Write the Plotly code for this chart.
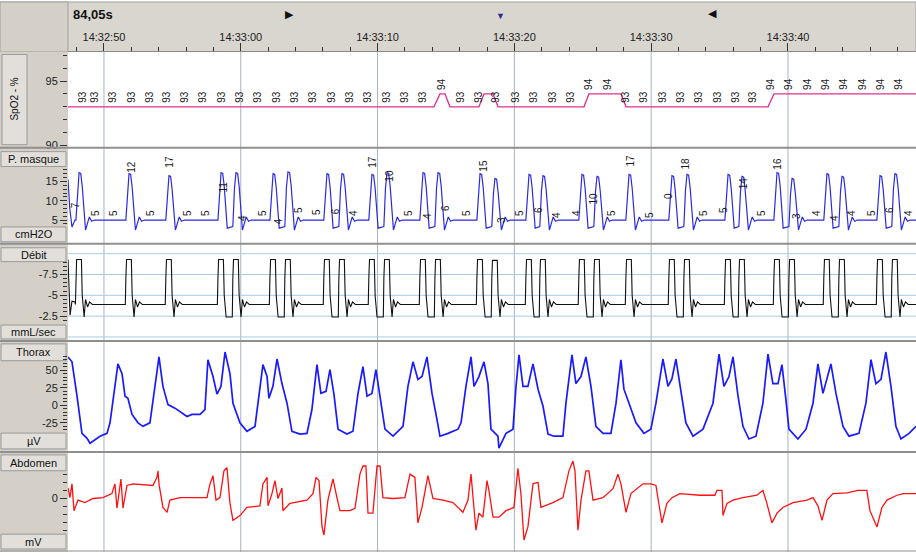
import plotly.graph_objects as go
import pandas as pd

# ---------------- DATA (seconds after 14:32:50) ----------------
t_start, t_end = -2.63, 59.36
grid_secs = [0, 10, 20, 30, 40, 50]

# SpO2 (%)
spo2_t = [-2.63, 24.12, 24.56, 24.93, 25.29, 27.41, 27.78, 28.44, 28.80, 35.09, 35.45, 37.79, 38.16, 48.54, 48.98, 59.36]
spo2_v = [93, 93, 94, 94, 93, 93, 94, 94, 93, 93, 94, 94, 93, 93, 94, 94]
spo2_lab_t = [-1.54, -0.66, 0.66, 2.05, 3.36, 4.61, 5.92, 7.24, 8.63, 9.94,
              11.26, 12.65, 13.96, 15.28, 16.67, 17.98, 19.30, 20.69, 22.00, 23.32,
              24.71, 26.10, 27.41, 28.65, 30.12, 31.43, 32.82, 34.14, 35.45, 36.84,
              38.16, 39.47, 40.86, 42.18, 43.49, 44.88, 46.20, 47.44, 48.76, 50.07,
              51.46, 52.78, 54.09, 55.48, 56.80, 58.11]
spo2_lab_v = [93, 93, 93, 93, 93, 93, 93, 93, 93, 93,
              93, 93, 93, 93, 93, 93, 93, 93, 93, 93,
              94, 93, 93, 93, 93, 93, 93, 93, 94, 94,
              93, 93, 93, 93, 93, 93, 93, 93, 94, 94,
              94, 94, 94, 94, 94, 94]

# P. masque (cmH2O)
pm_lead_t = [-2.63, -2.50, -2.34, -2.12]
pm_lead_v = [15.5, 8.0, 3.2, 5.0]
pm_peak_t = [-1.75, 1.90, 4.82, 8.63, 9.72, 12.43, 13.52, 16.37, 17.47, 19.66,
             20.76, 23.39, 24.49, 27.56, 28.65, 31.14, 32.16, 35.01, 36.11, 38.45,
             41.59, 42.69, 45.69, 46.71, 49.27, 50.37, 52.92, 54.02, 56.80, 57.89]
pm_peak_v = [17.3, 17.0, 16.5, 17.3, 17.3, 17.0, 17.5, 17.0, 17.0, 16.8,
             17.3, 17.3, 17.3, 17.0, 15.8, 16.8, 16.5, 16.8, 16.3, 16.8,
             16.5, 16.8, 16.8, 16.3, 17.3, 15.8, 17.0, 16.3, 16.5, 17.0]
pm_base, pm_trough, pm_trough_mid = 5.0, 2.4, 2.9
pm_lab_t = [-2.12, -0.66, 0.66, 2.05, 3.36, 4.82, 6.07, 7.38, 8.70, 10.09,
            11.55, 12.72, 14.18, 15.57, 16.89, 18.20, 19.66, 20.91, 22.22, 23.61,
            24.93, 26.46, 27.78, 29.02, 30.34, 31.73, 33.04, 34.50, 35.75, 37.06,
            38.52, 39.84, 41.23, 42.54, 43.79, 45.25, 46.71, 48.03, 49.27, 50.58,
            52.05, 53.36, 54.61, 56.07, 57.38, 58.77]
pm_lab_txt = ["7", "5", "5", "12", "5", "17", "5", "5", "11", "4",
              "5", "4", "5", "5", "6", "4", "17", "10", "5", "4",
              "6", "5", "15", "3", "5", "6", "4", "4", "10", "5",
              "17", "5", "0", "18", "5", "5", "14", "5", "16", "3",
              "4", "4", "4", "5", "6", "4"]
pm_lab_y = [8.8, 6.8, 6.8, 18.8, 6.8, 20.1, 6.8, 6.8, 13.7, 5.5,
            6.8, 4.7, 7.6, 7.1, 7.3, 6.8, 20.1, 16.5, 6.8, 6.0,
            8.1, 6.8, 19.1, 5.0, 6.8, 7.6, 6.3, 6.8, 10.6, 6.8,
            20.4, 6.3, 11.2, 19.6, 6.8, 7.6, 14.5, 6.8, 19.6, 6.0,
            6.8, 5.5, 6.8, 6.8, 7.6, 6.8]

# Débit (mmL/sec)
deb_lead_t = [-2.63, -2.56, -2.48, -2.34, -2.12]
deb_lead_v = [-9.3, -4.6, -2.6, -4.3, -4.2]
deb_peak_v = [-9.3, -9.3, -9.3, -9.3, -9.3, -9.3, -9.3, -9.3, -9.3, -9.3,
              -9.3, -9.3, -9.3, -9.3, -9.2, -9.3, -9.3, -9.3, -9.3, -9.3,
              -9.3, -9.3, -9.3, -9.3, -9.3, -9.3, -9.3, -9.3, -9.3, -9.3]
deb_base, deb_trough = -3.9, -2.4

# Thorax (µV)
thx_t = [-2.63, -2.34, -1.97, -1.61, -1.24, -1.02, -0.29, 0.22, 0.44, 0.80,
         1.02, 1.32, 1.54, 1.75, 2.05, 2.49, 2.85, 3.36, 3.73, 4.02,
         4.31, 4.68, 5.19, 5.70, 6.07, 6.43, 7.02, 7.38, 7.60, 7.97,
         8.26, 8.55, 8.85, 9.21, 9.43, 9.94, 10.45, 11.04, 11.40, 11.62,
         11.92, 12.06, 12.35, 12.65, 13.01, 13.38, 13.74, 14.33, 14.84, 15.20,
         15.57, 15.86, 16.23, 16.52, 16.81, 17.11, 17.76, 18.20, 18.57, 18.93,
         19.23, 19.59, 19.88, 20.18, 20.54, 21.13, 21.86, 22.22, 22.59, 22.95,
         23.25, 23.61, 23.98, 24.34, 24.56, 25.15, 25.88, 26.10, 26.46, 26.83,
         27.05, 27.41, 27.78, 28.07, 28.29, 28.80, 28.87, 29.39, 29.90, 30.12,
         30.34, 30.63, 30.99, 31.36, 31.73, 32.09, 32.46, 32.89, 33.55, 33.77,
         34.21, 34.50, 34.87, 35.23, 35.60, 35.96, 36.48, 37.06, 37.43, 37.79,
         38.01, 38.38, 38.89, 39.47, 39.98, 40.35, 40.86, 41.23, 41.52, 41.81,
         42.18, 42.54, 43.06, 43.79, 44.52, 44.96, 45.32, 45.69, 45.98, 46.35,
         46.71, 47.15, 47.66, 48.17, 48.54, 48.90, 49.27, 49.56, 49.85, 50.07,
         50.73, 51.32, 51.83, 52.19, 52.56, 53.14, 53.51, 54.02, 54.46, 55.19,
         55.70, 56.07, 56.43, 56.80, 57.16, 57.53, 57.89, 58.26, 58.85, 59.36]
thx_v = [69, 62, 13, -40, -47, -54, -44, -40, -25, 31,
         59, 45, 13, 10, -13, -25, -30, -25, 27, 69,
         27, 1, -4, -11, -16, -13, -13, -6, 65, 41,
         16, 27, 76, 45, 3, -25, -37, -30, 27, 58,
         41, 10, 27, 66, 31, 3, -37, -41, -40, -6,
         58, 17, 20, 51, 16, -34, -41, -37, 17, 55,
         13, 17, 51, 13, -34, -44, -30, 27, 62, 37,
         41, 69, 17, -20, -44, -40, -34, -25, 27, 69,
         27, 41, 62, 31, -34, -44, -61, -40, -34, 27,
         72, 27, 27, 59, 23, -1, -41, -44, -44, 3,
         72, 31, 41, 69, 27, -30, -40, -40, 3, 65,
         23, 3, -25, -40, -34, 3, 66, 27, 38, 66,
         17, -25, -44, -34, 3, 73, 27, 41, 69, 13,
         -30, -48, -44, 3, 73, 31, 31, 58, 8, -34,
         -48, -34, 3, 59, 17, 59, 17, -30, -44, -40,
         3, 65, 31, 37, 76, 27, -30, -48, -40, -30]

# Abdomen (mV)
abd_t = [-2.63, -2.49, -2.34, -2.19, -1.90, -1.39, -0.80, -0.07, 0.58, 0.80,
         0.95, 1.24, 1.39, 1.68, 2.12, 3.58, 3.87, 3.95, 4.02, 4.31,
         4.61, 4.82, 5.56, 7.53, 7.75, 7.97, 8.19, 8.48, 8.77, 8.99,
         9.21, 9.43, 9.94, 10.45, 11.40, 11.62, 11.92, 11.99, 12.28, 12.50,
         12.72, 13.01, 13.08, 13.60, 14.84, 15.28, 15.50, 15.72, 15.94, 16.08,
         16.37, 16.74, 17.03, 17.25, 17.98, 18.35, 18.71, 18.93, 19.15, 19.30,
         19.66, 19.96, 20.18, 20.39, 21.13, 22.00, 22.37, 22.73, 22.95, 23.25,
         23.68, 24.05, 24.78, 25.51, 26.24, 26.61, 26.83, 27.05, 27.19, 27.41,
         27.70, 28.00, 28.14, 28.44, 28.87, 29.39, 29.97, 30.26, 30.48, 30.70,
         30.99, 31.36, 31.73, 31.94, 32.82, 33.55, 33.99, 34.28, 34.43, 34.65,
         34.87, 35.23, 35.45, 35.75, 36.48, 37.21, 37.57, 37.79, 38.16, 38.52,
         39.40, 39.98, 40.35, 40.79, 41.15, 41.52, 42.11, 43.57, 44.66, 44.81,
         45.18, 45.25, 45.54, 45.98, 46.71, 47.73, 48.17, 48.46, 48.83, 49.20,
         49.63, 50.37, 51.39, 51.83, 52.19, 52.49, 52.85, 53.29, 54.31, 55.12,
         55.77, 55.99, 56.51, 56.87, 57.24, 57.97, 58.41, 59.36]
abd_v = [1.3, 0.1, 1.8, -1.5, -0.2, -0.5, 0.0, 0.1, 0.6, 1.8,
         -1.2, 2.4, -1.2, 1.6, 1.8, 1.6, 2.6, 3.4, 1.8, -1.1,
         -1.7, -0.2, 0.1, 0.1, 1.8, 2.8, -0.2, 0.1, 3.4, 3.8,
         -0.6, -2.7, -2.1, -1.1, -0.9, 1.8, 2.6, -0.9, 0.6, 2.2,
         0.0, 1.3, -1.5, -0.6, -0.2, 0.6, 2.6, 2.2, -3.5, -4.5,
         -0.2, 2.4, 0.1, -1.5, -1.5, -1.2, 3.0, 4.0, 4.0, -1.8,
         -1.8, 4.0, 4.0, 0.1, 0.0, 0.1, 3.0, 2.6, -3.0, -1.1,
         2.8, 0.0, -0.2, -0.5, -1.7, -0.2, 3.0, -1.5, -3.9, -1.8,
         -2.3, 2.2, 1.0, -2.3, -2.3, -1.5, -1.1, 3.7, 0.6, -5.1,
         -3.5, 1.8, 2.0, -1.1, -0.5, 0.1, 3.4, 4.6, 3.4, -3.9,
         -0.2, 3.4, 3.4, -0.2, 0.1, 1.2, 3.0, 1.8, -1.7, 0.6,
         1.8, 1.8, 1.6, -3.0, -0.6, 0.1, 0.6, 0.4, 0.4, 1.0,
         1.0, -2.1, -0.6, -0.2, 0.1, 0.4, 1.0, -0.6, -3.0, -1.8,
         -1.1, -0.5, -0.2, 0.1, -0.9, -2.7, -0.2, 0.6, 0.7, 1.0,
         1.0, -1.5, -3.5, -1.1, -0.2, 0.4, 0.6, 0.6]

# ---------------- helpers ----------------
BASE = pd.Timestamp("2000-01-01 14:32:50")


def T(secs):
    return [BASE + pd.Timedelta(seconds=float(s)) for s in secs]


W, H, L = 916, 557, 68


def px(x):
    return (x - L) / (W - L)


def py(y):
    return 1 - y / H


def build_pm(peak_t, peak_v):
    xs, ys = list(pm_lead_t), list(pm_lead_v)
    n = len(peak_t)
    for i, (t, v) in enumerate(zip(peak_t, peak_v)):
        prev_pair = i > 0 and t - peak_t[i - 1] < 1.6
        next_pair = i < n - 1 and peak_t[i + 1] - t < 1.6
        if prev_pair:
            xs += [t - 0.30]; ys += [pm_trough_mid + 0.4]
        else:
            xs += [t - 0.30]; ys += [pm_base]
        xs += [t - 0.18, t - 0.07, t + 0.05, t + 0.16]
        ys += [v - 4.0, v, v - 0.2, v - 3.5]
        if next_pair:
            xs += [t + 0.38]; ys += [pm_trough_mid]
        else:
            xs += [t + 0.40, t + 0.55, t + 0.68, t + 0.85, t + 1.05]
            ys += [pm_trough, pm_base - 0.5, pm_base + 0.8, pm_base - 0.3, pm_base]
    xs.append(t_end); ys.append(pm_base)
    return xs, ys


def build_deb(peak_t, peak_v):
    xs, ys = list(deb_lead_t), list(deb_lead_v)
    n = len(peak_t)
    for i, (t, v) in enumerate(zip(peak_t, peak_v)):
        prev_pair = i > 0 and t - peak_t[i - 1] < 1.6
        next_pair = i < n - 1 and peak_t[i + 1] - t < 1.6
        xs += [t - 0.34]; ys += [deb_trough if prev_pair else deb_base]
        xs += [t - 0.30, t - 0.25, t + 0.10, t + 0.16, t + 0.30]
        ys += [-7.0, v, v, -5.0, deb_trough]
        if not next_pair:
            xs += [t + 0.40, t + 0.55, t + 0.70, t + 0.90]
            ys += [-4.5, -3.6, -4.2, deb_base]
    xs.append(t_end); ys.append(deb_base)
    return xs, ys


pm_x, pm_y = build_pm(pm_peak_t, pm_peak_v)
deb_x, deb_y = build_deb(pm_peak_t, deb_peak_v)

FONT = "Liberation Sans, Arial, sans-serif"

fig = go.Figure()
fig.add_trace(go.Scatter(x=T(spo2_t), y=spo2_v, mode="lines", yaxis="y",
                         line=dict(color="#e0308f", width=1.3), showlegend=False))
fig.add_trace(go.Scatter(x=T(pm_x), y=pm_y, mode="lines", yaxis="y2",
                         line=dict(color="#2a2ae0", width=1.2), showlegend=False))
fig.add_trace(go.Scatter(x=T(deb_x), y=deb_y, mode="lines", yaxis="y3",
                         line=dict(color="#111111", width=1.1), showlegend=False))
fig.add_trace(go.Scatter(x=T(thx_t), y=thx_v, mode="lines", yaxis="y4",
                         line=dict(color="#1a1aff", width=1.7), showlegend=False))
fig.add_trace(go.Scatter(x=T(abd_t), y=abd_v, mode="lines", yaxis="y5",
                         line=dict(color="#ff1010", width=1.3), showlegend=False))

tickfont = dict(family=FONT, size=11, color="#222")


def yax(dom, rng, tv, tt, minor_vals):
    return dict(domain=[py(dom[1]), py(dom[0])], range=rng, tickmode="array",
                tickvals=tv, ticktext=tt, ticks="outside", ticklen=7,
                tickcolor="#333", tickfont=tickfont, showgrid=False,
                zeroline=False, showline=False, anchor="x", fixedrange=True,
                minor=dict(tickmode="array", tickvals=minor_vals, ticks="outside",
                           ticklen=4, tickcolor="#333", showgrid=False))


layout = dict(
    width=W, height=H, margin=dict(l=L, r=0, t=0, b=0),
    paper_bgcolor="white", plot_bgcolor="rgba(0,0,0,0)",
    font=dict(family=FONT, size=11, color="#222"),
    xaxis=dict(type="date", range=T([t_start, t_end]), side="top", anchor="y",
               tick0=BASE, dtick=10000, tickformat="%H:%M:%S",
               ticks="outside", ticklen=8, tickcolor="#333", tickfont=tickfont,
               ticklabelstandoff=-3,
               showgrid=False, zeroline=False, showline=True, linecolor="#8a8a8a",
               fixedrange=True,
               minor=dict(dtick=2000, tick0=BASE, ticks="outside", ticklen=4,
                          tickcolor="#333", showgrid=False)),
    yaxis=yax((52, 148), [89.9, 97.3], [90, 95], ["90", "95"], [91, 92, 93, 94, 96, 97]),
    yaxis2=yax((150, 245), [-0.9, 23.5], [5, 10, 15], ["5", "10", "15"],
               [4, 6, 7, 8, 9, 11, 12, 13, 14, 16, 17, 18]),
    yaxis3=yax((247, 343), [0.36, -11.07], [-7.5, -5, -2.5], ["-7.5", "-5", "-2.5"],
               [-9, -8.5, -8, -7, -6.5, -6, -5.5, -4.5, -4, -3.5, -3, -2]),
    yaxis4=yax((345, 455), [-65, 90.4], [-25, 0, 25, 50], ["-25", "0", "25", "50"],
               [-35, -30, -20, -15, -10, -5, 5, 10, 15, 20, 30, 35, 40, 45, 55, 60, 65, 70]),
    yaxis5=yax((457, 555), [-6.34, 5.61], [0], ["0"], [-4, -3, -2, -1, 1, 2, 3]),
)
fig.update_layout(**layout)

shapes = []
GRAY = "#d4d0c8"
# header
shapes.append(dict(type="rect", xref="paper", yref="paper", x0=px(0), x1=1,
                   y0=py(52), y1=py(2), fillcolor="#d9d6d0",
                   line=dict(color="#a0a0a0", width=1), layer="below"))
shapes.append(dict(type="rect", xref="paper", yref="paper", x0=px(0), x1=px(68),
                   y0=py(52), y1=py(2), fillcolor=GRAY,
                   line=dict(color="#a0a0a0", width=1), layer="below"))
# left column
shapes.append(dict(type="rect", xref="paper", yref="paper", x0=px(0), x1=px(68),
                   y0=py(557), y1=py(52), fillcolor=GRAY,
                   line=dict(width=0), layer="below"))
# label boxes
boxes = [(2, 27, 55, 146), (1, 66, 153, 168), (1, 66, 229, 244), (1, 66, 250, 264),
         (1, 66, 328, 342), (1, 66, 347, 364), (1, 66, 437, 453), (1, 66, 459, 475),
         (1, 66, 539, 554)]
for x0, x1, y0, y1 in boxes:
    shapes.append(dict(type="rect", xref="paper", yref="paper", x0=px(x0), x1=px(x1),
                       y0=py(y1), y1=py(y0), fillcolor="#e2dfda",
                       line=dict(color="#9a9a9a", width=1), layer="below"))
# vertical grid lines
for s in grid_secs:
    tt = BASE + pd.Timedelta(seconds=s)
    shapes.append(dict(type="line", xref="x", yref="paper", x0=tt, x1=tt,
                       y0=0, y1=py(52), line=dict(color="#a5b3c0", width=1),
                       layer="below"))
# Débit horizontal grid
for g in [-10, -7.5, -5, -2.5, 0]:
    shapes.append(dict(type="line", xref="paper", yref="y3", x0=0, x1=1, y0=g, y1=g,
                       line=dict(color="#aacbe3", width=1), layer="below"))
# panel separators
for ys in [149, 246, 344, 456]:
    shapes.append(dict(type="line", xref="paper", yref="paper", x0=px(0), x1=1,
                       y0=py(ys), y1=py(ys), line=dict(color="#8f8f8f", width=2)))
shapes.append(dict(type="line", xref="paper", yref="paper", x0=px(0), x1=1,
                   y0=py(556), y1=py(556), line=dict(color="#8f8f8f", width=1)))
fig.update_layout(shapes=shapes)

ann = []
lab = dict(family=FONT, size=11, color="#111")


def pann(text, x, y, font, **kw):
    d = dict(text=text, xref="paper", yref="paper", x=px(x), y=py(y),
             xanchor="center", yanchor="middle", showarrow=False, font=font)
    d.update(kw)
    return d


ann.append(pann("<b>84,05s</b>", 71, 15, dict(family=FONT, size=13, color="#111"),
                xanchor="left"))
ann.append(pann("▶", 289, 14, dict(size=11, color="#111")))
ann.append(pann("▼", 500, 16, dict(size=9, color="#2d2d8f")))
ann.append(pann("◀", 712, 13, dict(size=11, color="#111")))
ann.append(pann("SpO2 - %", 14.5, 100, dict(family=FONT, size=10, color="#111"),
                textangle=-90))
for txt, y in [("P. masque", 160.5), ("cmH2O", 236.5), ("Débit", 257), ("mmL/sec", 335),
               ("Thorax", 355.5), ("µV", 445), ("Abdomen", 467), ("mV", 546.5)]:
    ann.append(pann(txt, 33.5, y, lab))
numfont = dict(family=FONT, size=10, color="#1a1a1a")
for t, v in zip(spo2_lab_t, spo2_lab_v):
    ann.append(dict(text=str(v), xref="x", yref="y", x=BASE + pd.Timedelta(seconds=t),
                    y=v, yshift=10, textangle=-90, showarrow=False, font=numfont,
                    xanchor="center", yanchor="middle"))
for t, v, s in zip(pm_lab_t, pm_lab_y, pm_lab_txt):
    ann.append(dict(text=s, xref="x", yref="y2", x=BASE + pd.Timedelta(seconds=t),
                    y=v, textangle=-90, showarrow=False, font=numfont,
                    xanchor="center", yanchor="middle"))
fig.update_layout(annotations=ann)

fig.write_html("out.html")
